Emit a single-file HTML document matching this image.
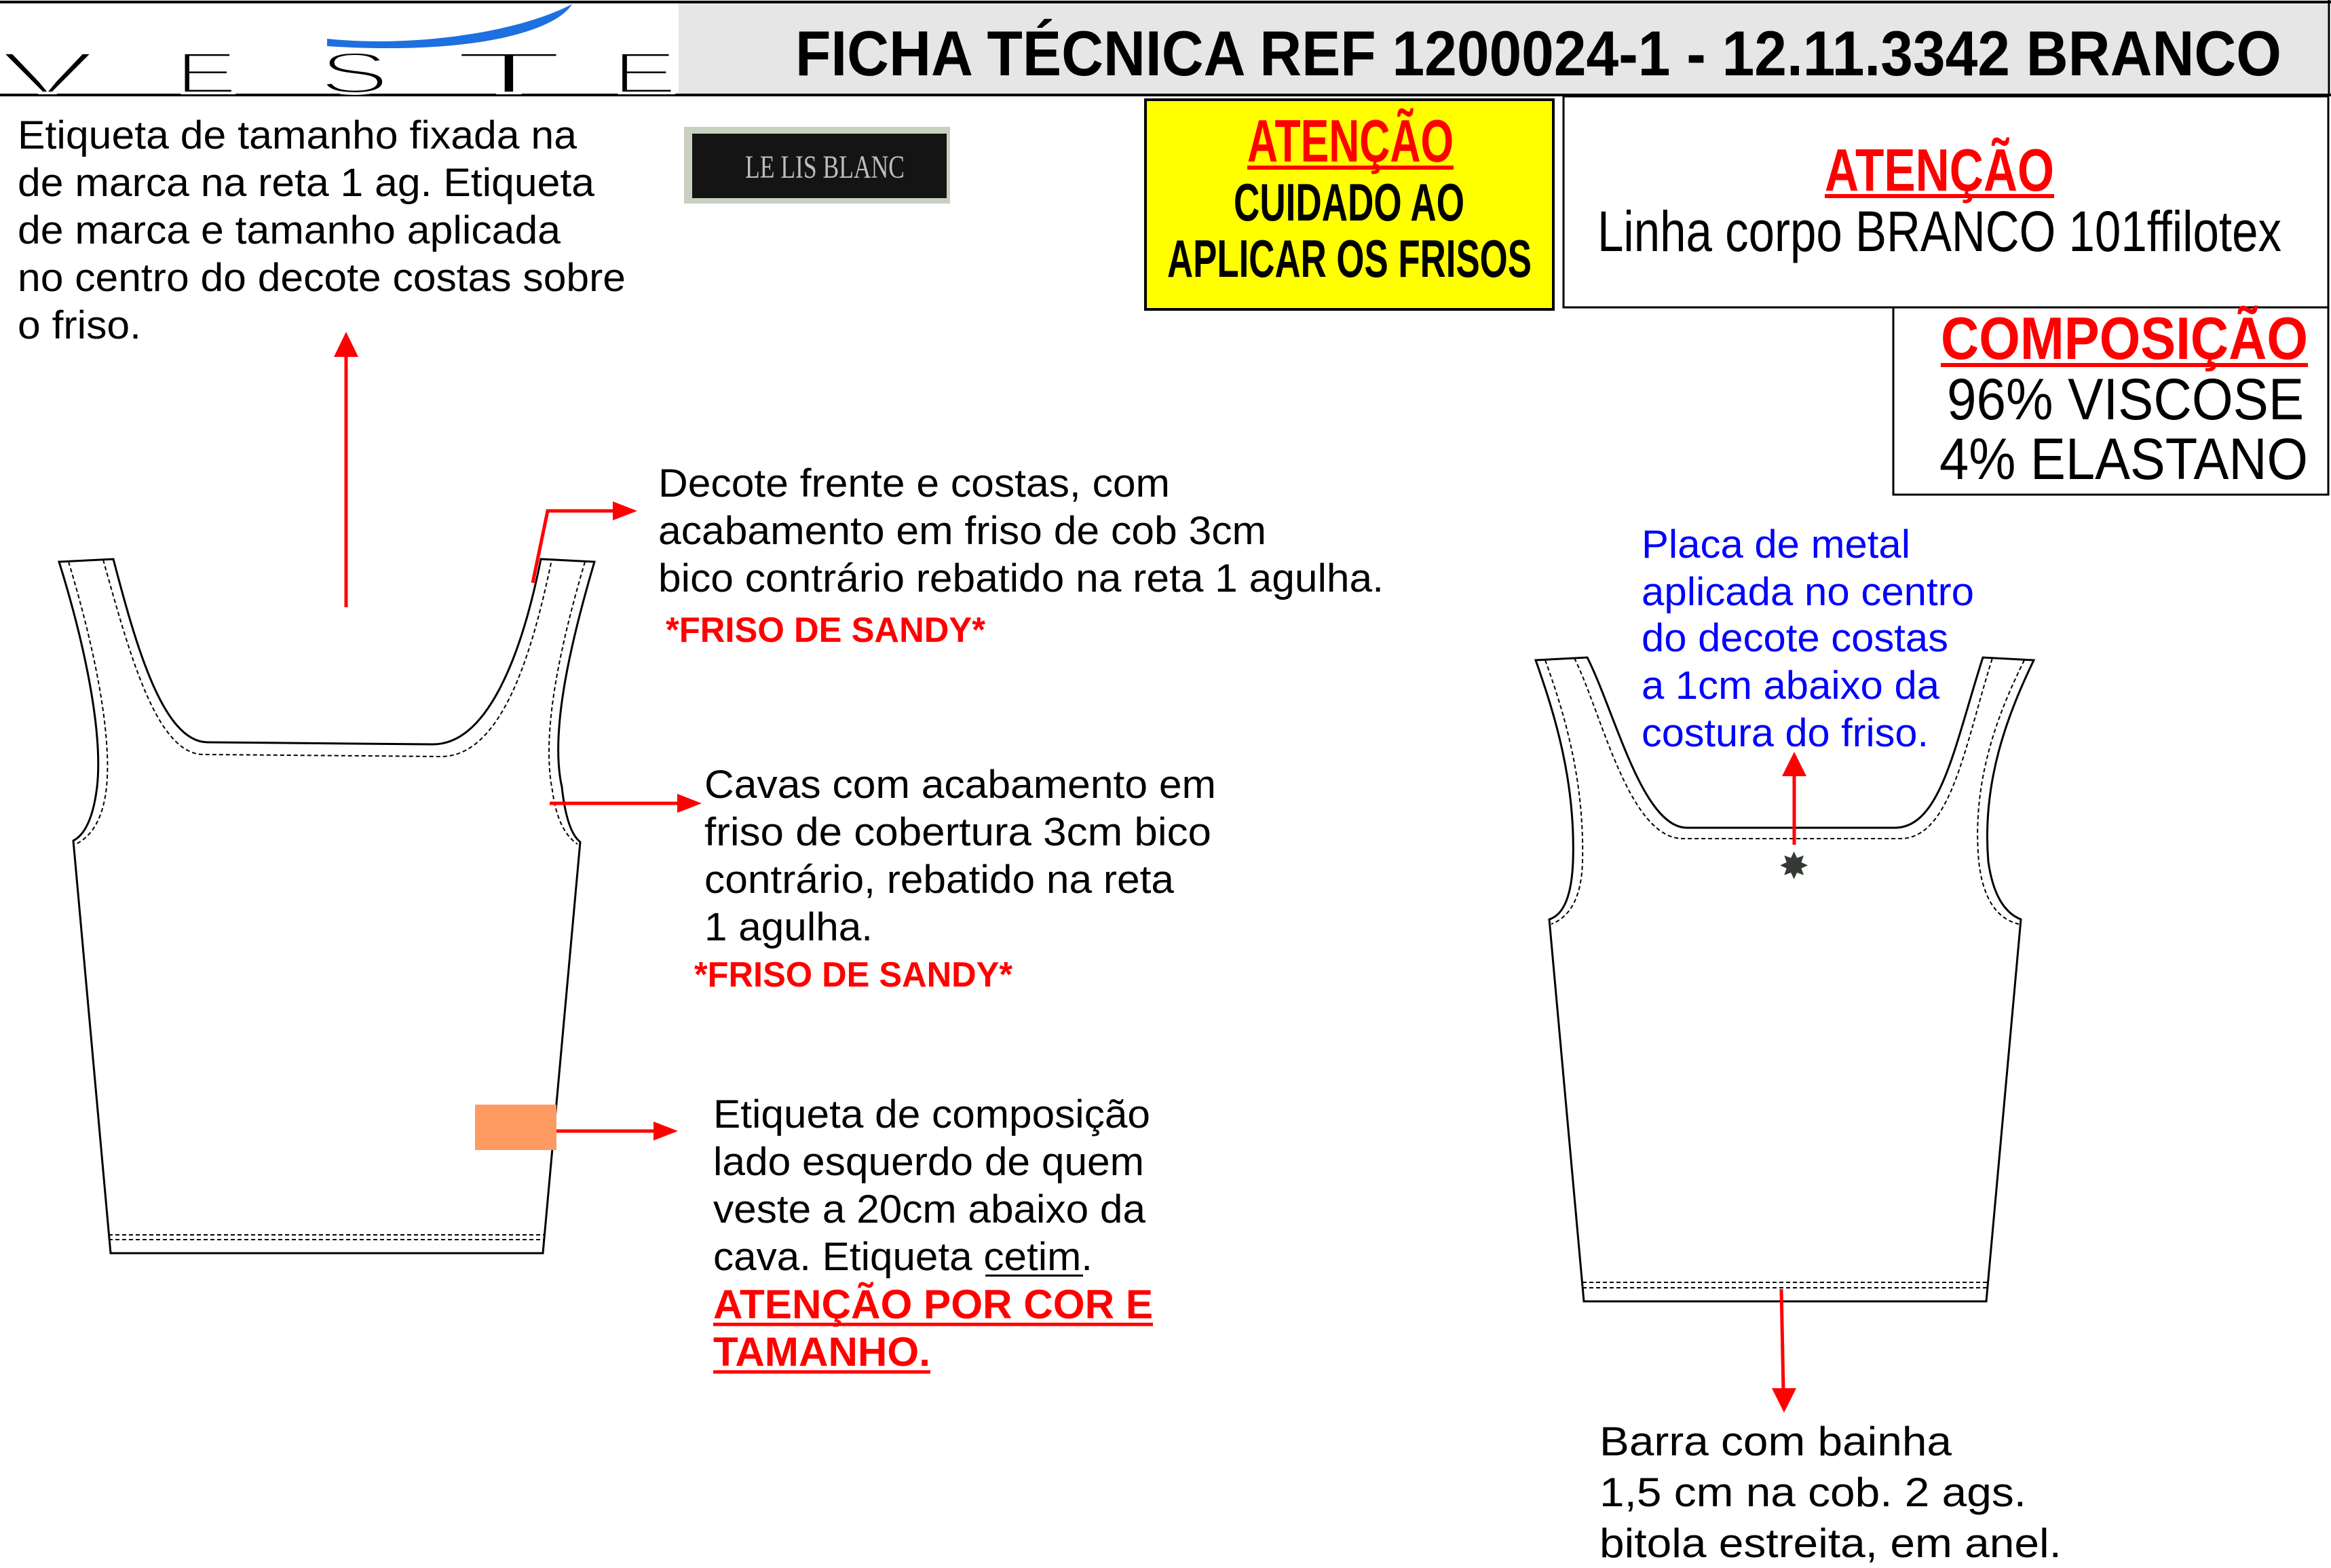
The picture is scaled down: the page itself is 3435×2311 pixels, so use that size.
<!DOCTYPE html>
<html><head><meta charset="utf-8"><style>
html,body{margin:0;padding:0;background:#fff;}
svg{display:block;}
text{font-family:"Liberation Sans",Arial,sans-serif;}
</style></head><body>
<svg width="3435" height="2311" viewBox="0 0 3435 2311" xmlns="http://www.w3.org/2000/svg">
<rect width="3435" height="2311" fill="#fff"/>
<!-- header -->
<rect x="1000" y="4" width="2433" height="136" fill="#e6e6e6"/>
<line x1="0" y1="3" x2="3435" y2="3" stroke="#000" stroke-width="4"/>
<line x1="0" y1="140" x2="3435" y2="140" stroke="#000" stroke-width="4"/>
<line x1="3432" y1="0" x2="3432" y2="140" stroke="#000" stroke-width="3"/>
<path d="M482,57 C600,70 760,50 843,6 C820,45 700,82 482,68 Z" fill="#1e6fe0"/>
<g font-size="86" fill="#000" stroke="#fff" stroke-width="4">
<text x="0" y="137" textLength="140" lengthAdjust="spacingAndGlyphs">V</text>
<text x="258" y="137" textLength="92" lengthAdjust="spacingAndGlyphs">E</text>
<text x="470" y="137" textLength="104" lengthAdjust="spacingAndGlyphs">S</text>
<text x="668" y="137" textLength="164" lengthAdjust="spacingAndGlyphs">T</text>
<text x="902" y="137" textLength="96" lengthAdjust="spacingAndGlyphs">E</text>
</g>
<text x="1172" y="111" font-size="94" font-weight="bold" textLength="2190" lengthAdjust="spacingAndGlyphs">FICHA TÉCNICA REF 1200024-1 - 12.11.3342 BRANCO</text>

<!-- label image -->
<rect x="1008" y="187" width="392" height="113" fill="#c8d0c0"/>
<rect x="1020" y="197" width="375" height="95" fill="#141414"/>
<text x="1098" y="262" style="font-family:'Liberation Serif',serif" font-size="48" fill="#bdbdbd" textLength="235" lengthAdjust="spacingAndGlyphs">LE LIS BLANC</text>

<!-- yellow box -->
<rect x="1688" y="147" width="601" height="309" fill="#ffff00" stroke="#000" stroke-width="4"/>
<text x="1838" y="238" font-size="88" font-weight="bold" fill="#ff0000" textLength="304" lengthAdjust="spacingAndGlyphs">ATENÇÃO</text>
<line x1="1838" y1="247" x2="2142" y2="247" stroke="#ff0000" stroke-width="6"/>
<text x="1818" y="325" font-size="78" font-weight="bold" textLength="340" lengthAdjust="spacingAndGlyphs">CUIDADO AO</text>
<text x="1720" y="408" font-size="78" font-weight="bold" textLength="537" lengthAdjust="spacingAndGlyphs">APLICAR OS FRISOS</text>

<!-- right box -->
<rect x="2304" y="142" width="1127" height="311" fill="#fff" stroke="#000" stroke-width="3"/>
<text x="2689" y="281" font-size="88" font-weight="bold" fill="#ff0000" textLength="338" lengthAdjust="spacingAndGlyphs">ATENÇÃO</text>
<line x1="2689" y1="289" x2="3027" y2="289" stroke="#ff0000" stroke-width="6"/>
<text x="2354" y="370" font-size="84" textLength="1008" lengthAdjust="spacingAndGlyphs">Linha corpo BRANCO 101ffilotex</text>

<!-- composicao -->
<path d="M2790,453 L2790,729 L3431,729 L3431,453" fill="none" stroke="#000" stroke-width="3"/>
<text x="2860" y="529" font-size="88" font-weight="bold" fill="#ff0000" textLength="541" lengthAdjust="spacingAndGlyphs">COMPOSIÇÃO</text>
<line x1="2860" y1="538" x2="3401" y2="538" stroke="#ff0000" stroke-width="6"/>
<text x="2869" y="618" font-size="86" textLength="526" lengthAdjust="spacingAndGlyphs">96% VISCOSE</text>
<text x="2858" y="706" font-size="86" textLength="543" lengthAdjust="spacingAndGlyphs">4% ELASTANO</text>

<!-- left text -->
<g font-size="58">
<text x="26" y="219" textLength="824" lengthAdjust="spacingAndGlyphs">Etiqueta de tamanho fixada na</text>
<text x="26" y="289" textLength="850" lengthAdjust="spacingAndGlyphs">de marca na reta 1 ag. Etiqueta</text>
<text x="26" y="359" textLength="800" lengthAdjust="spacingAndGlyphs">de marca e tamanho aplicada</text>
<text x="26" y="429" textLength="896" lengthAdjust="spacingAndGlyphs">no centro do decote costas sobre</text>
<text x="26" y="499" textLength="182" lengthAdjust="spacingAndGlyphs">o friso.</text>

<text x="970" y="732" textLength="754" lengthAdjust="spacingAndGlyphs">Decote frente e costas, com</text>
<text x="970" y="802" textLength="896" lengthAdjust="spacingAndGlyphs">acabamento em friso de cob 3cm</text>
<text x="970" y="872" textLength="1069" lengthAdjust="spacingAndGlyphs">bico contrário rebatido na reta 1 agulha.</text>

<text x="1038" y="1176" textLength="754" lengthAdjust="spacingAndGlyphs">Cavas com acabamento em</text>
<text x="1038" y="1246" textLength="747" lengthAdjust="spacingAndGlyphs">friso de cobertura 3cm  bico</text>
<text x="1038" y="1316" textLength="692" lengthAdjust="spacingAndGlyphs">contrário, rebatido na reta</text>
<text x="1038" y="1386" textLength="248" lengthAdjust="spacingAndGlyphs">1 agulha.</text>

<text x="1051" y="1662" textLength="644" lengthAdjust="spacingAndGlyphs">Etiqueta de composição</text>
<text x="1051" y="1732" textLength="635" lengthAdjust="spacingAndGlyphs">lado esquerdo de quem</text>
<text x="1051" y="1802" textLength="637" lengthAdjust="spacingAndGlyphs">veste a 20cm abaixo da</text>
<text x="1051" y="1872" textLength="559" lengthAdjust="spacingAndGlyphs">cava. Etiqueta cetim.</text>
</g>
<line x1="1452" y1="1880" x2="1596" y2="1880" stroke="#000" stroke-width="3"/>
<g font-size="60" font-weight="bold" fill="#ff0000">
<text x="1051" y="1943" textLength="648" lengthAdjust="spacingAndGlyphs">ATENÇÃO POR COR E</text>
<text x="1051" y="2013" textLength="320" lengthAdjust="spacingAndGlyphs">TAMANHO.</text>
<text x="981" y="946" font-size="52" textLength="471" lengthAdjust="spacingAndGlyphs">*FRISO DE SANDY*</text>
<text x="1023" y="1454" font-size="52" textLength="469" lengthAdjust="spacingAndGlyphs">*FRISO DE SANDY*</text>
</g>
<line x1="1051" y1="1952" x2="1699" y2="1952" stroke="#ff0000" stroke-width="5"/>
<line x1="1051" y1="2022" x2="1371" y2="2022" stroke="#ff0000" stroke-width="5"/>

<!-- left garment -->
<g fill="none" stroke="#000" stroke-width="3">
<path d="M87,828 L167,824 C200,950 240,1094 306,1094 L638,1097 C720,1097 770,960 797,824 L876,828 C840,950 810,1080 828,1160 Q835,1225 855,1241 L800,1847 L163,1847 L108,1239 Q135,1225 143,1160 C152,1080 125,950 87,828 Z"/>
</g>
<g fill="none" stroke="#000" stroke-width="2" stroke-dasharray="6,4">
<path d="M101,828 C138,950 165,1080 157,1160 Q150,1225 112,1244"/>
<path d="M152,825 C190,960 230,1112 300,1112 L650,1115 C740,1115 785,960 813,825"/>
<path d="M862,828 C826,950 797,1080 814,1165 Q822,1225 851,1244"/>
<line x1="160" y1="1820" x2="803" y2="1820"/>
<line x1="160" y1="1827" x2="803" y2="1827"/>
</g>
<rect x="700" y="1628" width="120" height="67" fill="#fe9a62"/>

<!-- right garment -->
<g fill="none" stroke="#000" stroke-width="3">
<path d="M2263,973 L2339,969 C2380,1050 2420,1220 2486,1220 L2792,1220 C2860,1220 2880,1100 2922,969 L2997,973 C2960,1050 2920,1150 2930,1270 Q2940,1340 2978,1355 L2927,1918 L2334,1918 L2283,1355 Q2315,1345 2318,1270 C2322,1150 2290,1050 2263,973 Z"/>
</g>
<g fill="none" stroke="#000" stroke-width="2" stroke-dasharray="6,4">
<path d="M2277,973 C2305,1050 2335,1150 2332,1270 Q2330,1345 2286,1362"/>
<path d="M2320,970 C2360,1050 2400,1236 2480,1236 L2800,1236 C2875,1236 2895,1100 2936,970"/>
<path d="M2983,973 C2945,1050 2905,1150 2916,1270 Q2925,1350 2975,1362"/>
<line x1="2332" y1="1890" x2="2929" y2="1890"/>
<line x1="2332" y1="1898" x2="2929" y2="1898"/>
</g>
<text x="2621" y="1295" font-size="54" fill="#333a33">✸</text>

<!-- blue text -->
<g font-size="58" fill="#0000ff">
<text x="2419" y="822" textLength="396" lengthAdjust="spacingAndGlyphs">Placa de metal</text>
<text x="2419" y="892" textLength="490" lengthAdjust="spacingAndGlyphs">aplicada no centro</text>
<text x="2419" y="960" textLength="452" lengthAdjust="spacingAndGlyphs">do decote costas</text>
<text x="2419" y="1030" textLength="439" lengthAdjust="spacingAndGlyphs">a 1cm abaixo da</text>
<text x="2419" y="1100" textLength="423" lengthAdjust="spacingAndGlyphs">costura do friso.</text>
</g>
<g font-size="60">
<text x="2357" y="2145" textLength="519" lengthAdjust="spacingAndGlyphs">Barra com bainha</text>
<text x="2357" y="2220" textLength="629" lengthAdjust="spacingAndGlyphs">1,5 cm na cob. 2 ags.</text>
<text x="2357" y="2295" textLength="681" lengthAdjust="spacingAndGlyphs">bitola estreita, em anel.</text>
</g>

<!-- arrows -->
<g stroke="#ff0000" stroke-width="5" fill="none">
<line x1="510" y1="895" x2="510" y2="520"/>
<polyline points="785,859 807,753 905,753"/>
<line x1="810" y1="1184" x2="1000" y2="1184"/>
<line x1="820" y1="1667" x2="965" y2="1667"/>
<line x1="2644" y1="1245" x2="2644" y2="1140"/>
<line x1="2625" y1="1900" x2="2628" y2="2050"/>
</g>
<g fill="#ff0000">
<polygon points="510,489 492,526 528,526"/>
<polygon points="939,753 903,739 903,767"/>
<polygon points="1034,1184 998,1170 998,1198"/>
<polygon points="999,1667 963,1653 963,1681"/>
<polygon points="2644,1108 2626,1144 2662,1144"/>
<polygon points="2629,2082 2611,2046 2647,2046"/>
</g>
</svg>
</body></html>
